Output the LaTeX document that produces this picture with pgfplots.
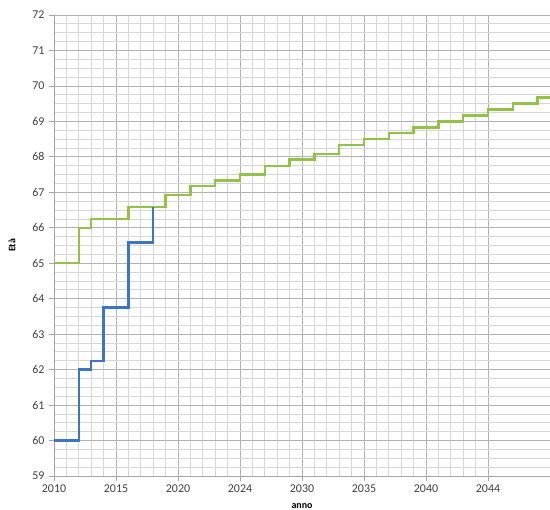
\documentclass[border=0pt]{standalone}
\usepackage{fontspec}
\setmainfont{Carlito}
\usepackage{pgfplots}
\pgfplotsset{compat=1.18}

\definecolor{verde}{RGB}{146,194,72}
\definecolor{blu}{RGB}{62,116,196}
\definecolor{testo}{RGB}{64,64,64}

\begin{document}
\begin{tikzpicture}
\begin{axis}[
    scale only axis,
    width=496bp, height=461bp,
    xmin=0, xmax=40,
    ymin=59, ymax=72,
    xtick={0,5,...,35},
    xticklabels={2010,2015,2020,2024,2030,2035,2040,2044},
    extra x ticks={40},
    extra x tick labels={},
    ytick={59,60,...,72},
    minor x tick num=4,
    minor y tick num=3,
    grid=both,
    major grid style={gray!60, line width=0.8bp},
    minor grid style={gray!32, line width=0.8bp},
    axis lines*=left,
    axis line style={gray!70, line width=0.8bp},
    tick style={gray!70, line width=0.8bp},
    tick align=outside,
    major tick length=5bp,
    minor tick length=0pt,
    /pgf/number format/assume math mode=true,
    ticklabel style={font=\fontsize{12}{13}\selectfont, text=testo},
    yticklabel style={xshift=-1bp},
    ylabel={\textbf{Età}},
    xlabel={\textbf{anno}},
    ylabel style={at={(axis description cs:-0.0847,0.5)}, anchor=center, font=\fontsize{10}{11}\selectfont},
    xlabel style={at={(axis description cs:0.5,-0.0655)}, anchor=center, inner sep=0pt, font=\fontsize{10}{11}\selectfont},
]
\coordinate (sw) at (rel axis cs:0,0);
\coordinate (ne) at (rel axis cs:1,1);
\addplot[const plot, verde, line width=2.4bp] coordinates {
    (0,65) (2,66) (3,66.25) (6,66.58) (9,66.92) (11,67.17) (13,67.33)
    (15,67.5) (17,67.75) (19,67.92) (21,68.08) (23,68.33) (25,68.5)
    (27,68.67) (29,68.83) (31,69) (33,69.17) (35,69.33) (37,69.5)
    (39,69.67) (40,69.67)
};
\addplot[const plot, blu, line width=2.4bp] coordinates {
    (0,60) (2,62) (3,62.25) (4,63.75) (6,65.58) (8,66.58)
};
\end{axis}
\pgfresetboundingbox
\useasboundingbox ([shift={(-54bp,-34bp)}]sw) rectangle ([shift={(0bp,15bp)}]ne);
\end{tikzpicture}
\end{document}
